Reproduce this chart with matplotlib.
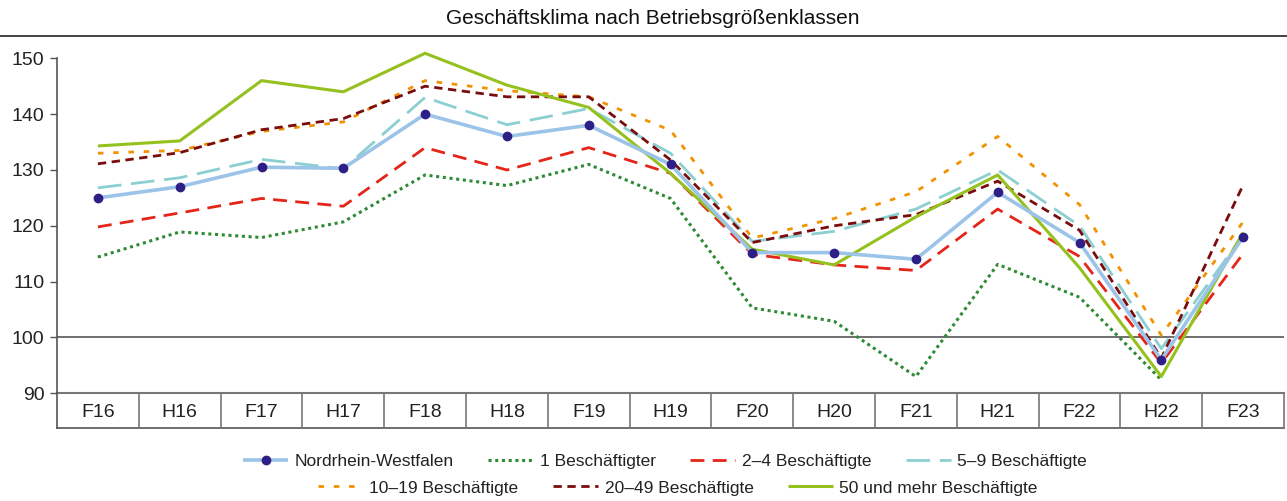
import numpy as np
import matplotlib
matplotlib.use("Agg")
import matplotlib.pyplot as plt
from matplotlib.lines import Line2D

plt.rcParams['font.family'] = ['Liberation Sans', 'DejaVu Sans']

categories = ["F16", "H16", "F17", "H17", "F18", "H18", "F19", "H19",
              "F20", "H20", "F21", "H21", "F22", "H22", "F23"]

nrw = [125, 127, 130.5, 130.3, 140, 136, 138, 131, 115.2, 115.2, 114, 126, 117, 96, 118]
b1 = [114.4, 118.9, 117.9, 120.7, 129.1, 127.2, 131, 124.9, 105.3, 102.9, 93, 113.1, 107.2, 92.4, np.nan]
b2_4 = [119.8, 122.3, 124.9, 123.5, 134, 130, 134, 129.4, 114.9, 113, 112, 123, 114.5, 95.4, 115]
b5_9 = [126.8, 128.6, 131.9, 130.2, 143, 138.1, 141, 133, 117.2, 119, 123, 130, 120, 98, 118.3]
b10_19 = [133, 133.5, 136.9, 138.6, 146, 144.2, 143.1, 137.1, 117.8, 121.3, 126.1, 136, 123.8, 100.4, 120.7]
b20_49 = [131.1, 133.1, 137.2, 139.2, 145, 143.1, 143.1, 131.8, 117, 120, 122, 128, 119.2, 96.3, 127.3]
b50 = [134.3, 135.2, 146, 144, 150.9, 145.2, 141.2, 129.4, 115.8, 113, 121.6, 129.1, 112.5, 93, 118.8]

series_labels = ["Nordrhein-Westfalen", "1 Beschäftigter", "2–4 Beschäftigte",
                 "5–9 Beschäftigte", "10–19 Beschäftigte", "20–49 Beschäftigte",
                 "50 und mehr Beschäftigte"]
yticks = [90, 100, 110, 120, 130, 140, 150]
title = "Geschäftsklima nach Betriebsgrößenklassen"

W, H = 1287, 501
fig = plt.figure(figsize=(W / 100, H / 100), dpi=100)
ax_l, ax_r = 57 / W, 1284 / W
ax_t, ax_b = 1 - 58.3 / H, 1 - 393.3 / H
ax = fig.add_axes([ax_l, ax_b, ax_r - ax_l, ax_t - ax_b])

x = np.arange(len(categories))
lw = 2.0
styles = [
    dict(color="#9cc4e8", lw=2.6, ls="-", marker="o", ms=6, mfc="#2d1f86", mec="#2d1f86", zorder=9),
    dict(color="#2f8a35", lw=2.2, ls=(0, (1, 1.2)), zorder=4),
    dict(color="#e42518", lw=lw, ls=(0, (5, 3)), zorder=5),
    dict(color="#8ccfd1", lw=lw, ls=(0, (8.5, 3.5)), zorder=6),
    dict(color="#f39200", lw=lw, ls=(0, (2, 3.5)), zorder=3),
    dict(color="#7a0c0c", lw=lw, ls=(0, (3, 2)), zorder=7),
    dict(color="#95c11f", lw=2.2, ls="-", zorder=8),
]
data = [nrw, b1, b2_4, b5_9, b10_19, b20_49, b50]
handles = []
for d, st, lab in zip(data, styles, series_labels):
    h, = ax.plot(x, d, label=lab, solid_capstyle="butt", dash_capstyle="butt",
                 clip_on=False, **st)
    handles.append(h)

ax.set_xlim(-0.5, len(categories) - 0.5)
ax.set_ylim(90, 150)
ax.set_yticks(yticks)
ax.tick_params(axis="y", direction="out", length=5, width=1, color="#555555",
               labelsize=14, pad=4, labelcolor="#222222")
for s in ["top", "right", "bottom"]:
    ax.spines[s].set_visible(False)
ax.spines["left"].set_color("#555555")
ax.spines["left"].set_linewidth(1.2)
ax.spines["left"].set_bounds(90, 150)

# reference line at 100
ax.axhline(100, color="#555555", lw=1.2, zorder=1)

# category box below the plot
box_h = (428 - 393.3) / (393.3 - 58.3)
tr = ax.get_xaxis_transform()
ax.plot([-0.5, len(categories) - 0.5], [0, 0], transform=tr, color="#777777", lw=1.5, clip_on=False)
ax.plot([-0.5, len(categories) - 0.5], [-box_h, -box_h], transform=tr, color="#555555", lw=1.2, clip_on=False)
ax.plot([-0.5, -0.5], [-box_h, 0], transform=tr, color="#555555", lw=1.2, clip_on=False)
for i in range(1, len(categories) + 1):
    ax.plot([i - 0.5, i - 0.5], [-box_h, 0], transform=tr, color="#777777", lw=1.2, clip_on=False)
ax.set_xticks(x)
ax.set_xticklabels(categories)
ax.tick_params(axis="x", length=0, labelsize=14, pad=8, labelcolor="#222222")

# title and top rule
fig.text(653 / W, 1 - 19 / H, title, ha="center", va="center", fontsize=15, color="#111111")
fig.add_artist(Line2D([0, 1], [1 - 36 / H, 1 - 36 / H], color="#222222", lw=1.2))

# legends (two centred rows)
leg_kw = dict(frameon=False, fontsize=12.5, handlelength=2.6, handletextpad=0.35,
              columnspacing=2.0, borderpad=0, labelcolor="#222222")
fig.legend(handles[:4], series_labels[:4], loc="center", ncol=4,
           bbox_to_anchor=(665 / W, 1 - 461 / H), **leg_kw)
fig.legend(handles[4:], series_labels[4:], loc="center", ncol=3,
           bbox_to_anchor=(678 / W, 1 - 488 / H), **leg_kw)

fig.savefig("out.png", dpi=100)
